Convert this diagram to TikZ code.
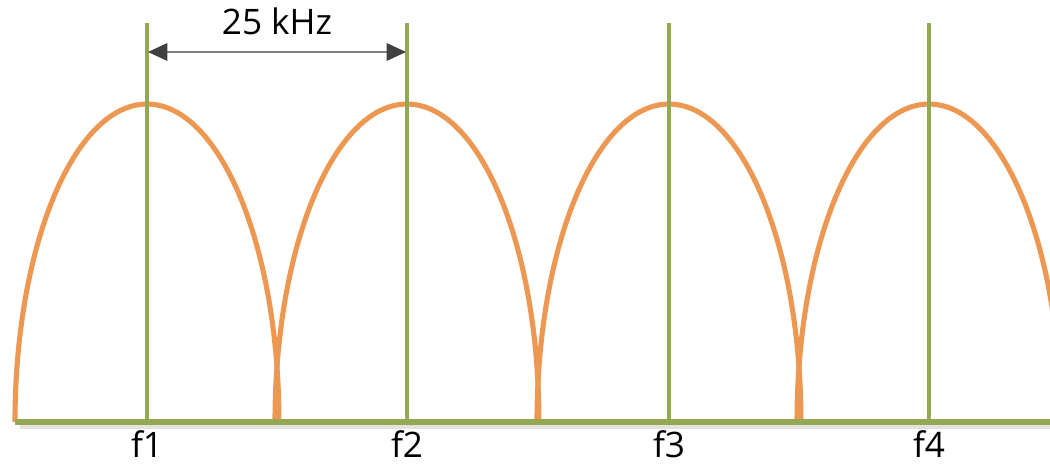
\documentclass[tikz,border=0pt]{standalone}
\usepackage{fontspec}
\setmainfont{Open Sans}
\usetikzlibrary{arrows.meta, positioning}

\definecolor{lobeorange}{RGB}{237,152,82}
\definecolor{carriergreen}{RGB}{146,168,82}
\definecolor{shadowgray}{RGB}{226,226,226}
\definecolor{arrowgray}{RGB}{64,64,64}

\begin{document}
\begin{tikzpicture}[
    x=0.02cm, y=0.02cm,
    lobe/.style={draw=lobeorange, line width=2.9pt},
    carrier/.style={draw=carriergreen, line width=2.1pt},
    baseline/.style={draw=carriergreen, line width=3.1pt},
    spacing/.style={draw=gray, line width=0.9pt,
                    {Triangle[length=11pt, width=10pt, color=arrowgray]}-{Triangle[length=11pt, width=10pt, color=arrowgray]}},
    label/.style={font=\fontsize{20}{24}\selectfont, inner sep=0pt, text depth=0pt, anchor=base},
]
\useasboundingbox (0,0) rectangle (1050,465);

% shadow under the axis
\draw[draw=shadowgray, line width=2.3pt] (20,38) -- (1050,38);

% spectral lobes
\begin{scope}
  \clip (0,0) rectangle (1050,465);
  \foreach \c in {147,407,669,929} {
    \draw[lobe] (\c-132,43) arc[start angle=180, end angle=0, x radius=2.64cm, y radius=6.36cm];
  }
\end{scope}

% carriers and labels
\foreach \c/\n in {147/1,407/2,669/3,929/4} {
  \coordinate (top\n) at (\c,442);
  \coordinate (bot\n) at (\c,43);
  \draw[carrier] (bot\n) -- (top\n);
  \node[label] (f\n) at (\c,7) {f\n};
}

% axis
\coordinate (axisL) at (15,43);
\coordinate (axisR) at (1050,43);
\draw[baseline] (axisL) -- (axisR);

% channel spacing
\coordinate (arrL) at (148,413);
\coordinate (arrR) at (406,413);
\draw[spacing] (arrL) -- (arrR);
\node[label] (spacing) at (277,430) {25 kHz};

\end{tikzpicture}
\end{document}
